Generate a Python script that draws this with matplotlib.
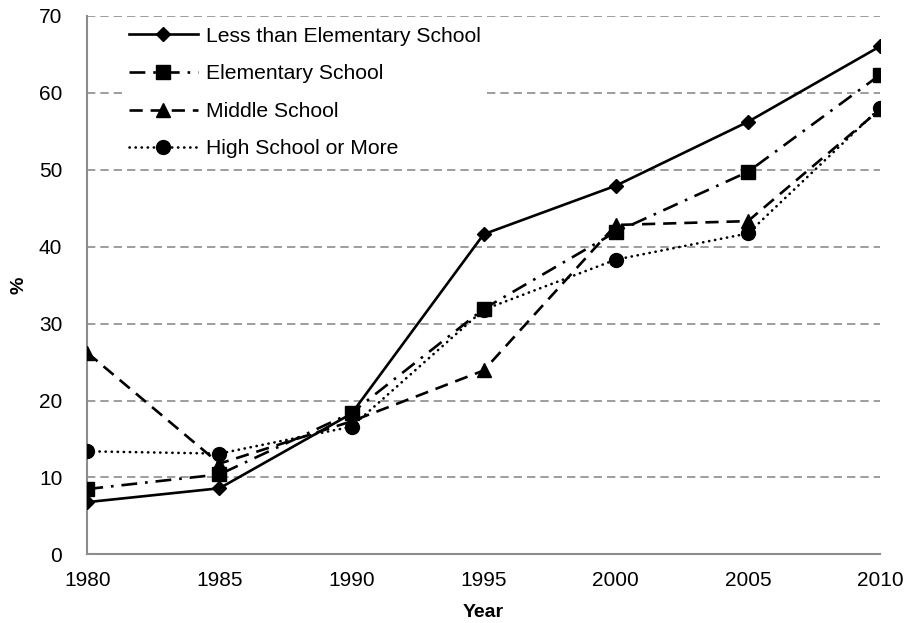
import matplotlib
matplotlib.use("Agg")
import matplotlib.pyplot as plt

plt.rcParams['font.family'] = ['Liberation Sans', 'DejaVu Sans']

years = [1980, 1985, 1990, 1995, 2000, 2005, 2010]
less_elem = [6.8, 8.6, 18.3, 41.6, 47.9, 56.2, 66.0]
elem = [8.5, 10.4, 18.4, 31.9, 41.9, 49.7, 62.3]
middle = [26.2, 11.8, 17.3, 23.9, 42.8, 43.3, 57.8]
high = [13.4, 13.1, 16.6, 31.8, 38.3, 41.7, 58.0]
labels = ["Less than Elementary School", "Elementary School", "Middle School", "High School or More"]
yticks = [0, 10, 20, 30, 40, 50, 60, 70]

fig = plt.figure(figsize=(9.08, 6.23), dpi=100)
ax = fig.add_axes([0.0962, 0.110, 0.873, 0.865])

lw = 1.9
ax.plot(years, less_elem, color='black', lw=lw, ls='-', marker='D', ms=7, label=labels[0], zorder=3)
ax.plot(years, elem, color='black', lw=lw, ls=(0, (6, 3, 1, 3)), marker='s', ms=10, label=labels[1], zorder=3)
ax.plot(years, middle, color='black', lw=lw, ls=(0, (5, 3)), marker='^', ms=10, label=labels[2], zorder=3)
ax.plot(years, high, color='black', lw=lw, ls=(0, (0.1, 2.2)), dash_capstyle='round', marker='o', ms=10, label=labels[3], zorder=3)

ax.set_xlim(1980, 2010)
ax.set_ylim(0, 70)
ax.set_xticks(years)
ax.set_yticks(yticks)
ax.tick_params(axis='x', length=0, labelsize=15, pad=12)
ax.tick_params(axis='y', length=0, labelsize=15, pad=18)
ax.yaxis.grid(True, color='#8c8c8c', ls=(0, (5, 3)), lw=1.2)
ax.set_axisbelow(True)
for s in ['top', 'right']:
    ax.spines[s].set_visible(False)
for s in ['left', 'bottom']:
    ax.spines[s].set_color('#8c8c8c')
    ax.spines[s].set_linewidth(1.5)

ax.set_xlabel("Year", fontsize=14, fontweight='bold', labelpad=10)
ax.set_ylabel("%", fontsize=14, fontweight='bold', labelpad=8)

leg = ax.legend(loc='upper left', bbox_to_anchor=(0.044, 0.991), fontsize=15.2, frameon=True,
                handlelength=3.3, labelspacing=0.88, handletextpad=0.35, borderpad=0.3,
                borderaxespad=0)
leg.get_frame().set_facecolor('white')
leg.get_frame().set_edgecolor('none')
leg.get_frame().set_alpha(1)

fig.savefig("out.png", dpi=100)
